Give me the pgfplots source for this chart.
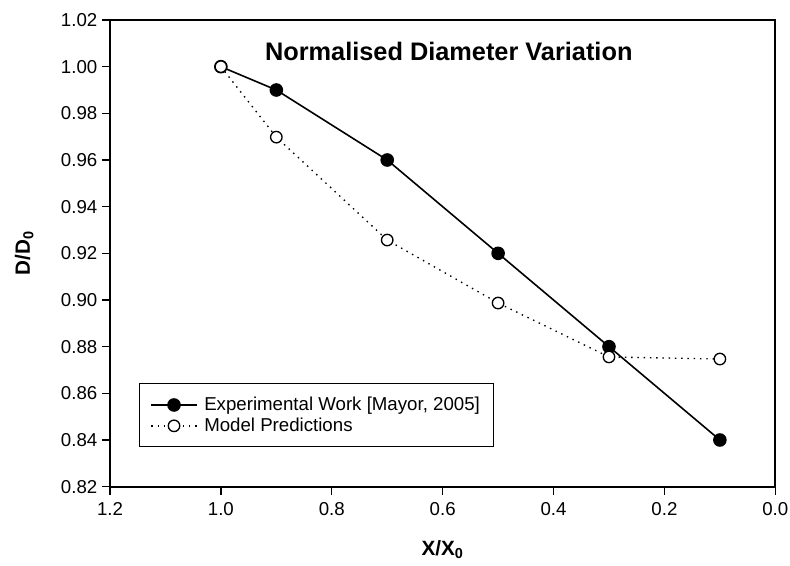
\documentclass[border=0pt]{standalone}
\usepackage{fontspec}
\setmainfont{Liberation Sans}
\usepackage{pgfplots}
\pgfplotsset{compat=1.18}
\usetikzlibrary{calc}
\begin{document}
\begin{tikzpicture}
\begin{axis}[
    name=ax,
    scale only axis,
    width=499pt, height=350pt,
    x dir=reverse,
    xmin=0, xmax=1.2,
    ymin=0.82, ymax=1.02,
    xtick={0,0.2,0.4,0.6,0.8,1.0,1.2},
    ytick={0.82,0.84,0.86,0.88,0.90,0.92,0.94,0.96,0.98,1.00,1.02},
    xticklabel style={yshift=-2pt, /pgf/number format/.cd, fixed, fixed zerofill, precision=1},
    yticklabel style={/pgf/number format/.cd, fixed, fixed zerofill, precision=2},
    /pgf/number format/assume math mode=true,
    tick label style={font=\fontsize{14}{16}\selectfont},
    tick align=outside,
    xtick pos=bottom, ytick pos=left,
    major tick length=6pt,
    tick style={line width=1pt, black},
    axis line style={line width=1.3pt},
    xlabel={\textbf{X/X\textsubscript{0}}},
    ylabel={\textbf{D/D\textsubscript{0}}},
    label style={font=\fontsize{15.5}{17}\selectfont},
    xlabel style={at={(axis description cs:0.5,-0.135)}, anchor=center},
    ylabel style={at={(axis description cs:-0.129,0.5)}, anchor=center},
    legend style={at={(axis description cs:0.044,0.084)}, anchor=south west,
        font=\fontsize{14}{16}\selectfont, draw=black, line width=0.8pt,
        inner xsep=8pt, inner ysep=8pt, row sep=0pt, column sep=3pt},
    legend cell align=left,
    legend image code/.code={
        \draw[mark repeat=2, mark phase=2]
        plot coordinates {(0cm,0cm) (0.6cm,0cm) (1.2cm,0cm)};},
]
\addplot[black, line width=1.2pt, mark=*, mark size=4.5pt,
    mark options={solid, fill=black}] coordinates {
    (1.0, 1.000)
    (0.9, 0.990)
    (0.7, 0.960)
    (0.5, 0.920)
    (0.3, 0.880)
    (0.1, 0.840)
};
\addlegendentry{Experimental Work [Mayor, 2005]}
\addplot[black, line width=1pt, dash pattern=on 1.1pt off 3.6pt, mark=*, mark size=4.3pt,
    mark options={solid, fill=white, line width=1pt}] coordinates {
    (1.0, 1.000)
    (0.9, 0.9698)
    (0.7, 0.9257)
    (0.5, 0.8987)
    (0.3, 0.8756)
    (0.1, 0.8747)
};
\addlegendentry{Model Predictions}
\node[font=\fontsize{19}{21}\selectfont\bfseries] at (axis cs:0.589,1.0067) {Normalised Diameter Variation};
\end{axis}
\pgfresetboundingbox
\path ($(ax.south west)+(-82.5pt,-59pt)$) rectangle ($(ax.north east)+(11pt,15pt)$);
\end{tikzpicture}
\end{document}
